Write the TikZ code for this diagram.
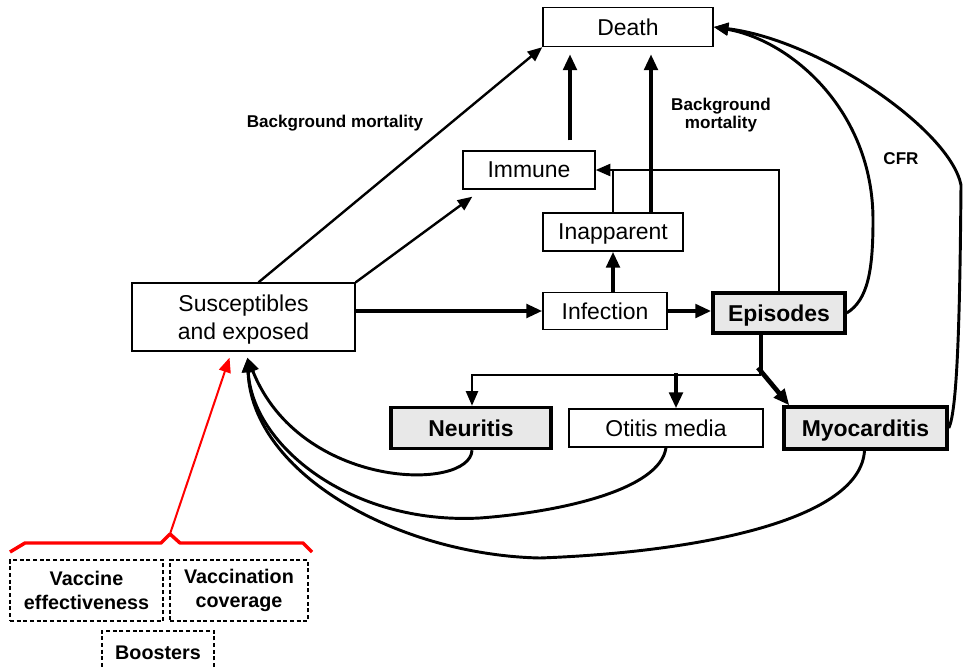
\documentclass[tikz,border=0pt]{standalone}
\usepackage{fontspec}
\setmainfont{Liberation Sans}
\usetikzlibrary{arrows.meta,calc}

\tikzset{
  box/.style={draw, line width=1pt, fill=white, inner sep=0pt, align=center,
    text depth=0pt, font=\fontsize{17.2}{21}\selectfont},
  keybox/.style={box, fill=gray!18, line width=2.6pt,
    font=\fontsize{17.2}{21}\selectfont\bfseries},
  parbox/.style={draw, line width=1.8pt, dash pattern=on 3pt off 2pt, inner sep=0pt,
    align=center, font=\fontsize{14.8}{17.5}\selectfont\bfseries},
  lbl/.style={align=center, font=\fontsize{12.8}{14}\selectfont\bfseries},
  flow/.style={line width=1.8pt, -{Triangle[length=11pt,width=9pt]}},
  bigflow/.style={line width=3.5pt, -{Triangle[length=12pt,width=10pt]}},
  back/.style={line width=2.2pt, -{Triangle[length=11pt,width=9pt]}},
}

\begin{document}
\begin{tikzpicture}[x=0.75pt, y=-0.75pt]
\useasboundingbox (0,0) rectangle (963,667);

% compartments
\node[box, minimum width=127.5pt, minimum height=29.25pt] (death) at (628,27) {Death};
\node[box, minimum width=99pt, minimum height=28.5pt] (imm) at (529,170) {Immune};
\node[box, minimum width=105pt, minimum height=28.5pt] (inap) at (613,232) {Inapparent};
\node[box, minimum width=167.25pt, minimum height=51pt] (sus) at (243.5,317) {Susceptibles\\and exposed};
\node[box, minimum width=93pt, minimum height=27.75pt] (inf) at (605,311) {Infection};
\node[keybox, minimum width=99pt, minimum height=30pt] (epi) at (779,313) {Episodes};
\node[keybox, minimum width=120pt, minimum height=30.75pt] (neu) at (471,428) {Neuritis};
\node[box, minimum width=145.5pt, minimum height=28.5pt] (oti) at (666,428) {Otitis media};
\node[keybox, minimum width=122.25pt, minimum height=31.5pt] (myo) at (865.5,428) {Myocarditis};

% vaccination parameters
\node[parbox, minimum width=114.75pt, minimum height=45.75pt] (eff) at (86.5,590.5) {Vaccine\\effectiveness};
\node[parbox, minimum width=103.5pt, minimum height=45.75pt] (cov) at (239,590.5) {Vaccination\\coverage};
\node[parbox, minimum width=84pt, minimum height=33pt] (boo) at (158,653) {Boosters};

% labels
\node[lbl] (bgm) at (335,123) {Background mortality};
\node[lbl] (bgm2) at (721,115) {Background\\mortality};
\node[lbl] (cfr) at (901,159) {CFR};

% flows
\draw[flow] ($(sus.north)+(15,0)$) -- (death.south west);
\draw[flow] (sus.north east) -- ($(imm.south west)+(10,7)$);
\draw[bigflow] (sus.east |- inf.west) -- (inf.west);
\draw[bigflow] (inf.east) -- (epi.west |- inf.east);
\draw[bigflow] (inap.south |- inf.north) -- (inap.south);
\draw[bigflow] ($(imm.north)+(41,-10)$) -- ($(death.south)+(-58,7)$);
\draw[bigflow] ($(inap.north)+(38,0)$) -- ($(death.south)+(23,7)$);
\draw[flow] (epi.north) |- (imm.east);
\draw[line width=1.8pt] (inap.north) -- (inap.north |- imm.east);

% outcomes of episodes
\coordinate (split) at ($(epi.south)+(-18,40)$);
\draw[line width=2.6pt] ($(epi.south)+(-18,0)$) -- (split);
\draw[flow] (split) -| ($(neu.north)+(1,0)$);
\draw[bigflow] ($(oti.north)+(10,-35)$) -- ($(oti.north)+(10,0)$);
\draw[bigflow] ($(split)+(-3,-7)$) -- ($(myo.north west)+(7,0)$);

% deaths
\draw[back] (epi.east) .. controls (868,300) and (873,270) .. (873,220)
  .. controls (873,110) and (790,40) .. (death.east);
\draw[back] (myo.east) .. controls (958,410) and (960,300) .. (961,185)
  .. controls (950,130) and (820,40) .. (death.east);

% recovery back to susceptibles
\draw[back] ($(neu.south)+(1,0)$) .. controls (470,492) and (300,490) .. ($(sus.south)+(4,6)$);
\draw[back] (oti.south) .. controls (660,490) and (560,512) .. (480,518)
  .. controls (350,525) and (252,445) .. ($(sus.south)+(4,6)$);
\draw[back] ($(myo.south)+(-1,0)$) .. controls (860,520) and (700,552) .. (540,558)
  .. controls (400,555) and (252,475) .. ($(sus.south)+(4,6)$);

% vaccination
\coordinate (brace) at (170,534);
\draw[red, line width=2.6pt, line join=round] (10,552) -- (25,543) -- (161,543) -- (brace)
  -- (180,543) -- (303,543) -- (312,552);
\draw[red, line width=1.5pt, -{Triangle[length=11pt,width=9pt]}] (brace) -- ($(sus.south)+(-14,6)$);

\end{tikzpicture}
\end{document}
